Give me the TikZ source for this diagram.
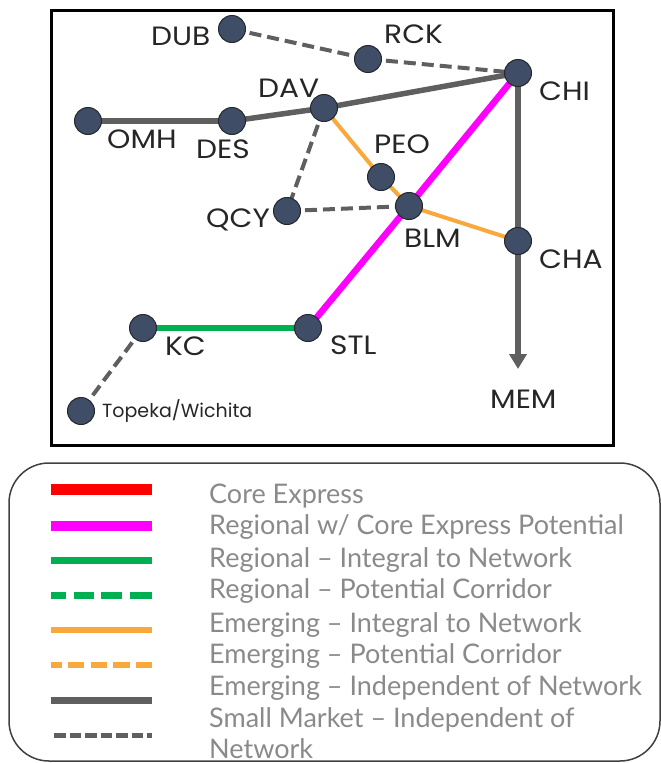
\documentclass[tikz,border=0pt]{standalone}
\usepackage{fontspec}
\usepackage{graphicx}
\setmainfont{Poppins}
\newfontfamily\legfont{Lato}
\usetikzlibrary{arrows.meta}
\pgfdeclarelayer{bg}
\pgfsetlayers{bg,main}
\definecolor{stn}{HTML}{3F4E66}
\definecolor{stnedge}{HTML}{23272E}
\definecolor{lgray}{HTML}{5F5F5F}
\definecolor{orng}{HTML}{F9A93B}
\definecolor{grn}{HTML}{00B050}
\definecolor{mag}{HTML}{FF00FF}
\definecolor{legtxt}{HTML}{8A8A8A}
\newcommand\widetxt[1]{\scalebox{1.12}[1]{#1}}
\tikzset{
  stnnode/.style={circle, fill=stn, draw=stnedge, line width=1pt, minimum size=27pt, inner sep=0pt},
  lbl/.style={anchor=base west, inner sep=0pt, text=black!85, font=\fontsize{26.5}{28}\selectfont},
  smalllbl/.style={anchor=base west, inner sep=0pt, text=black!85, font=\fontsize{19}{22}\selectfont},
  graysolid/.style={draw=lgray, line width=5.5pt},
  graydash/.style={draw=lgray, line width=4pt, dash pattern=on 12pt off 6pt},
  orngline/.style={draw=orng, line width=4pt},
  magline/.style={draw=mag, line width=6.5pt},
  grnline/.style={draw=grn, line width=6pt},
  legtext/.style={anchor=base west, inner sep=0pt, text=legtxt, align=left, font=\legfont\fontsize{27}{31}\selectfont},
}
\begin{document}
\begin{tikzpicture}[x=1pt,y=-1pt]
\useasboundingbox (0,0) rectangle (661,763);
% map frame
\draw[line width=3pt, black] (51,10) rectangle (613,445);
% stations
\node[stnnode] (dub) at (232,29) {};
\node[stnnode] (rck) at (368,59) {};
\node[stnnode] (chi) at (518,73) {};
\node[stnnode] (dav) at (324,108) {};
\node[stnnode] (omh) at (88,121) {};
\node[stnnode] (des) at (232,121) {};
\node[stnnode] (qcy) at (287,211) {};
\node[stnnode] (peo) at (381,177) {};
\node[stnnode] (blm) at (409,206) {};
\node[stnnode] (cha) at (518,241) {};
\node[stnnode] (stl) at (308,328) {};
\node[stnnode] (kc) at (143,328) {};
\node[stnnode] (tpk) at (81,411) {};
\coordinate (memtip) at (518,369);
% labels
\node[lbl] (ldub) at (151,45) {\widetxt{DUB}};
\node[lbl] (lrck) at (384,43) {\widetxt{RCK}};
\node[lbl] (ldav) at (258,97) {\widetxt{DAV}};
\node[lbl] (lomh) at (107,148) {\widetxt{OMH}};
\node[lbl] (ldes) at (196,158) {\widetxt{DES}};
\node[lbl] (lqcy) at (206,227) {\widetxt{QCY}};
\node[lbl] (lchi) at (539,100) {\widetxt{CHI}};
\node[lbl] (lpeo) at (374,153) {\widetxt{PEO}};
\node[lbl] (lblm) at (404,247) {\widetxt{BLM}};
\node[lbl] (lcha) at (539,268) {\widetxt{CHA}};
\node[lbl] (lstl) at (330,354) {\widetxt{STL}};
\node[lbl] (lkc) at (165,355) {\widetxt{KC}};
\node[lbl] (lmem) at (490,408) {\widetxt{MEM}};
\node[smalllbl] (ltpk) at (102,417) {Topeka/Wichita};
% connectors
\begin{pgfonlayer}{bg}
\draw[graydash] (dub.center) -- (rck.center);
\draw[graydash] (rck.center) -- (chi.center);
\draw[graysolid] (omh.center) -- (des.center);
\draw[graysolid] (des.center) -- (dav.center);
\draw[graysolid] (dav.center) -- (chi.center);
\draw[graydash] (dav.center) -- (qcy.center);
\draw[graydash] (qcy.center) -- (blm.center);
\draw[orngline] (dav.center) -- (peo.center);
\draw[orngline] (peo.center) -- (blm.center);
\draw[orngline] (blm.center) -- (cha.center);
\draw[magline] (chi.center) -- (blm.center);
\draw[magline] (blm.center) -- (stl.center);
\draw[graysolid] (chi.center) -- (cha.center);
\draw[graysolid, -{Triangle[width=17pt,length=15pt]}] (cha.center) -- (memtip);
\draw[grnline] (kc.center) -- (stl.center);
\draw[graydash] (kc.center) -- (tpk.center);
\end{pgfonlayer}
% legend
\draw[line width=1.5pt, draw=black!75, rounded corners=40pt] (9,463) rectangle (660,761);
\coordinate (a1) at (51,489.5); \coordinate (b1) at (152,489.5);
\coordinate (a2) at (51,526); \coordinate (b2) at (152,526);
\coordinate (a3) at (51,560.5); \coordinate (b3) at (152,560.5);
\coordinate (a4) at (51,595.5); \coordinate (b4) at (152,595.5);
\coordinate (a5) at (51,630); \coordinate (b5) at (152,630);
\coordinate (a6) at (51,665); \coordinate (b6) at (152,665);
\coordinate (a7) at (51,700); \coordinate (b7) at (152,700);
\coordinate (a8) at (54,735.5); \coordinate (b8) at (152,735.5);
\draw[draw=red, line width=11pt] (a1) -- (b1);
\draw[draw=mag, line width=10pt] (a2) -- (b2);
\draw[draw=grn, line width=7.5pt] (a3) -- (b3);
\draw[draw=grn, line width=7pt, dash pattern=on 15pt off 8pt on 20pt off 7pt on 21pt off 8pt on 22pt off 100pt] (a4) -- (b4);
\draw[draw=orng, line width=6pt] (a5) -- (b5);
\draw[draw=orng, line width=6pt, dash pattern=on 11pt off 5.5pt on 16pt off 7pt on 16pt off 6pt on 17pt off 6pt on 17pt off 100pt] (a6) -- (b6);
\draw[draw=lgray, line width=7pt] (a7) -- (b7);
\draw[draw=lgray, line width=5pt, dash pattern=on 11.5pt off 4pt] (a8) -- (b8);
\node[legtext] (t1) at (209,503) {Core Express};
\node[legtext] (t2) at (209,534) {Regional w/ Core Express Potential};
\node[legtext] (t3) at (209,567) {Regional – Integral to Network};
\node[legtext] (t4) at (209,598) {Regional – Potential Corridor};
\node[legtext] (t5) at (209,632) {Emerging – Integral to Network};
\node[legtext] (t6) at (209,663) {Emerging – Potential Corridor};
\node[legtext] (t7) at (209,695) {Emerging – Independent of Network};
\node[legtext] (t8) at (209,758) {Small Market – Independent of\\Network};
\end{tikzpicture}
\end{document}
